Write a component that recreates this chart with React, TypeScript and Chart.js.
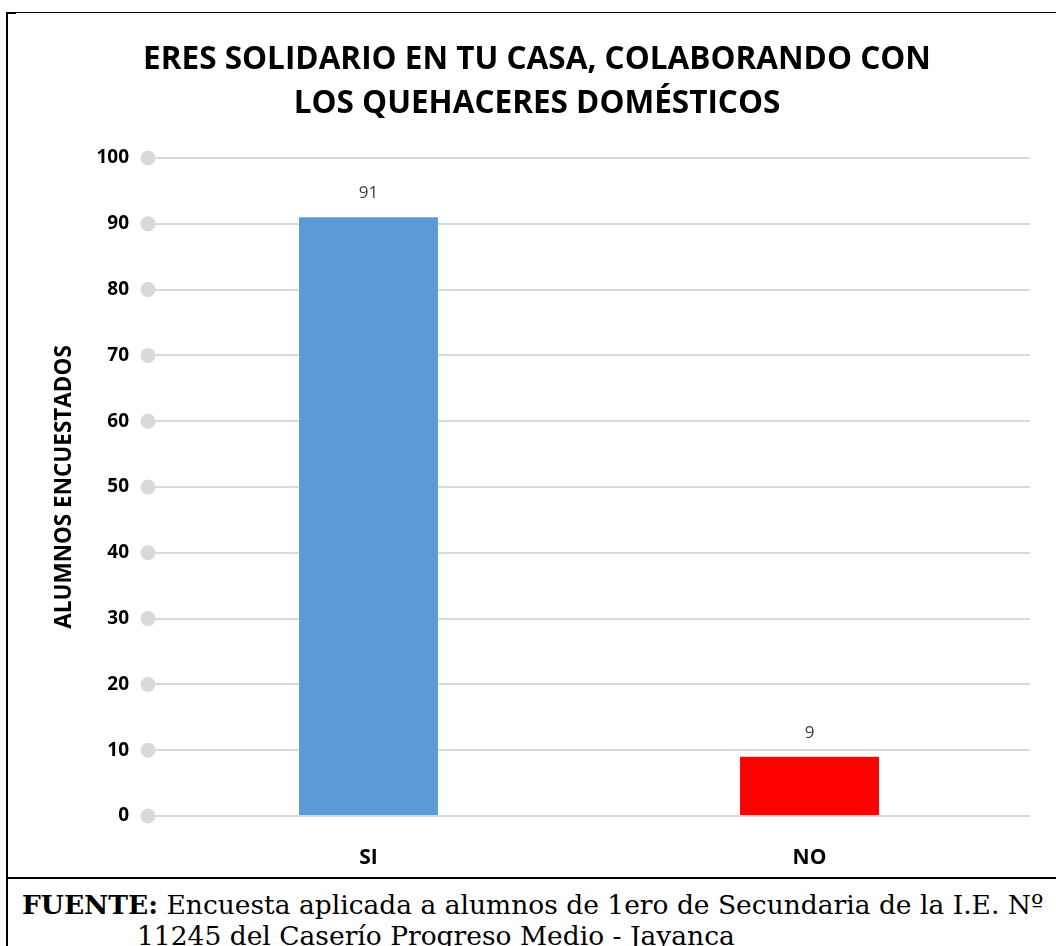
import React, { useEffect, useRef } from "react";
import { Chart, registerables } from "chart.js";

Chart.register(...registerables);

const titleLines = ["ERES SOLIDARIO EN TU CASA, COLABORANDO CON", "LOS QUEHACERES DOMÉSTICOS"];
const categories = ["SI", "NO"];
const values = [91, 9];
const barColors = ["#5B9BD5", "#FF0000"];
const yAxisTitle = "ALUMNOS ENCUESTADOS";
const yMin = 0;
const yMax = 100;
const yStep = 10;
const footerBold = "FUENTE:";
const footerLine1 = " Encuesta aplicada a alumnos de 1ero de Secundaria de la I.E. Nº";
const footerLine2 = "11245 del Caserío Progreso Medio - Jayanca";

const SANS = "'Open Sans', sans-serif";

const gridDots = {
  id: "gridDots",
  beforeDatasetsDraw(chart: any) {
    const ctx = chart.ctx;
    const ys = chart.scales.y;
    const left = chart.chartArea.left;
    ctx.save();
    ctx.fillStyle = "#D9D9D9";
    ys.ticks.forEach((t: any, i: number) => {
      const y = ys.getPixelForTick(i);
      ctx.beginPath();
      ctx.arc(left, y, 7.5, 0, Math.PI * 2);
      ctx.fill();
    });
    ctx.restore();
  },
};

const valueLabels = {
  id: "valueLabels",
  afterDatasetsDraw(chart: any) {
    const ctx = chart.ctx;
    const meta = chart.getDatasetMeta(0);
    const data = chart.data.datasets[0].data;
    ctx.save();
    ctx.font = `normal 17px ${SANS}`;
    ctx.fillStyle = "#404040";
    ctx.textAlign = "center";
    ctx.textBaseline = "middle";
    meta.data.forEach((el: any, i: number) => {
      ctx.fillText(String(data[i]), el.x, el.y - 24);
    });
    ctx.restore();
  },
};

function BarChart() {
  const ref = useRef<HTMLCanvasElement>(null);
  useEffect(() => {
    if (!ref.current) return;
    const chart = new Chart(ref.current, {
      type: "bar",
      data: {
        labels: categories,
        datasets: [
          {
            data: values,
            backgroundColor: barColors,
            barPercentage: 0.315,
            categoryPercentage: 1,
          },
        ],
      },
      options: {
        animation: false,
        responsive: false,
        layout: { padding: { left: 36, right: 26, top: 0, bottom: 0 } },
        plugins: {
          legend: { display: false },
          tooltip: { enabled: false },
          title: {
            display: true,
            text: titleLines,
            color: "#000",
            font: { family: SANS, size: 31.5, weight: "bold", lineHeight: 44 / 31.5 },
            padding: { top: 25, bottom: 32 },
          },
        },
        scales: {
          x: {
            grid: { display: false },
            border: { display: false },
            ticks: { color: "#000", font: { family: SANS, size: 21, weight: "bold" }, padding: 21 },
            afterFit(scale: any) {
              scale.height = 61;
            },
          },
          y: {
            min: yMin,
            max: yMax,
            border: { display: false },
            grid: { color: "#D9D9D9", lineWidth: 2, drawTicks: false },
            ticks: {
              stepSize: yStep,
              color: "#000",
              font: { family: SANS, size: 19, weight: "bold" },
              padding: 19,
            },
            title: {
              display: true,
              text: yAxisTitle,
              color: "#000",
              font: { family: SANS, size: 22.5, weight: "bold" },
              padding: { top: 7, bottom: 0 },
            },
            afterFit(scale: any) {
              scale.width = 104;
            },
          },
        },
      },
      plugins: [gridDots, valueLabels],
    });
    return () => chart.destroy();
  }, []);
  return (
    <canvas
      ref={ref}
      width={1048}
      height={864}
      style={{ position: "absolute", left: 8, top: 13, width: 1048, height: 864 }}
    />
  );
}

export default function App() {
  const footerStyle: React.CSSProperties = {
    position: "absolute",
    whiteSpace: "nowrap",
    fontFamily: "'DejaVu Serif', serif",
    fontSize: 26.5,
    lineHeight: "30px",
    color: "#000",
  };
  return (
    <div
      style={{
        position: "absolute",
        left: 0,
        top: 0,
        width: 1056,
        height: 946,
        overflow: "hidden",
        background: "#fff",
      }}
    >
      <div style={{ position: "absolute", left: 7, top: 12, width: 1049, height: 1, background: "#000" }} />
      <div style={{ position: "absolute", left: 6, top: 12, width: 10, height: 2, background: "#000" }} />
      <div style={{ position: "absolute", left: 6, top: 12, width: 2, height: 934, background: "#000" }} />
      <div style={{ position: "absolute", left: 7, top: 877, width: 1049, height: 2, background: "#000" }} />
      <BarChart />
      <div style={{ ...footerStyle, left: 22, top: 890 }}>
        <b>{footerBold}</b>
        {footerLine1}
      </div>
      <div style={{ ...footerStyle, left: 137, top: 921 }}>{footerLine2}</div>
    </div>
  );
}
